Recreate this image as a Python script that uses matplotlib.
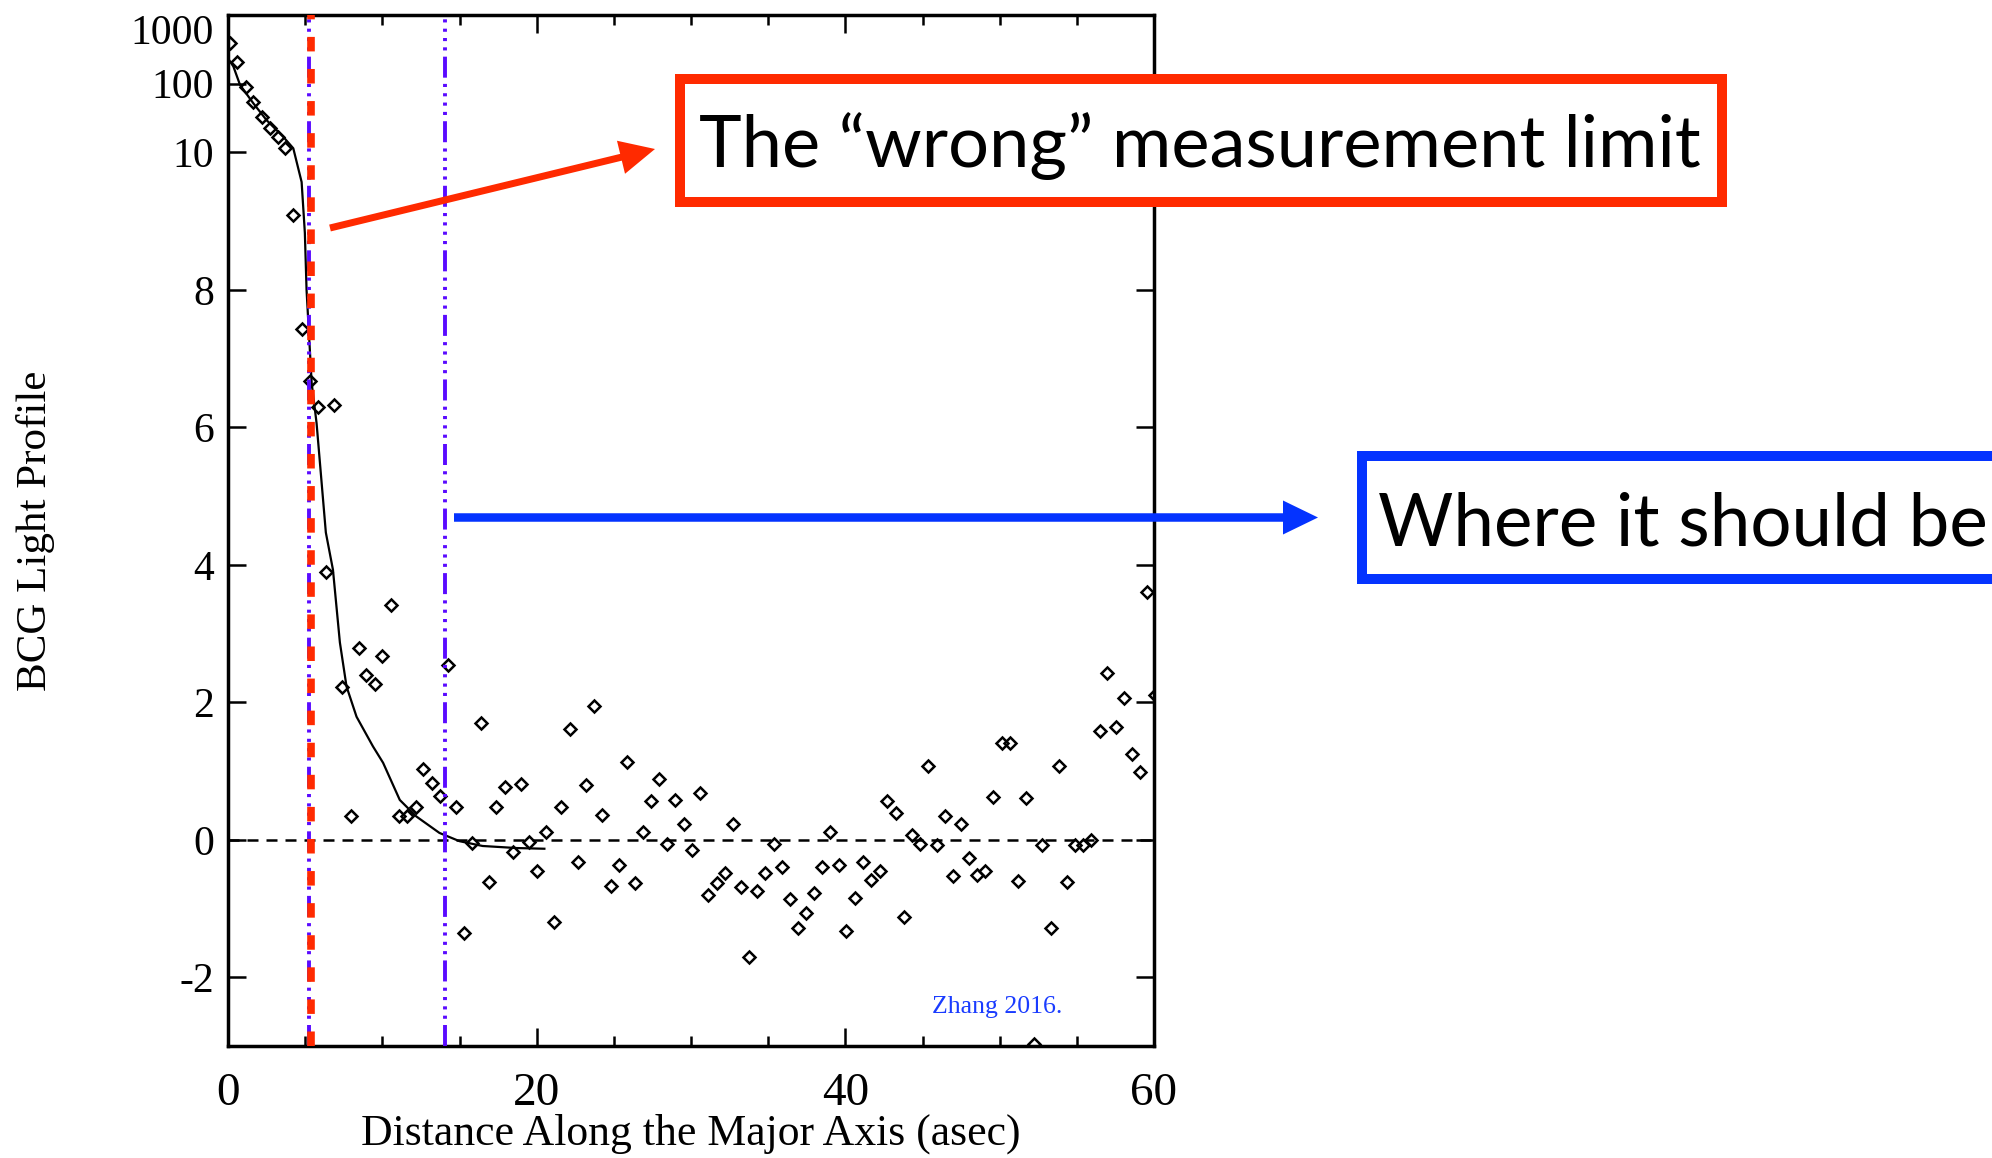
import matplotlib

matplotlib.use("Agg")

import matplotlib.pyplot as plt  # noqa: E402
import numpy as np
from matplotlib.patches import FancyArrow, Rectangle
from matplotlib.ticker import FixedLocator, MultipleLocator

W, H = 1992, 1158

# measured light profile (diamonds)
prof_x = [0.13, 0.60, 1.14, 1.64, 2.18, 2.72, 3.22, 3.69, 4.23, 4.77, 5.31, 5.85,
          6.32, 6.88, 7.40, 7.96, 8.48, 8.97, 9.51, 10.01, 10.55, 11.07, 11.61,
          12.17, 12.64, 13.22, 13.72, 14.26, 14.76, 15.30, 15.84, 16.38, 16.89,
          17.39, 17.93, 18.47, 19.01, 19.50, 20.04, 20.58, 21.10, 21.60, 22.14,
          22.67, 23.17, 23.71, 24.25, 24.79, 25.33, 25.83, 26.34, 26.88, 27.38,
          27.92, 28.46, 28.98, 29.53, 30.05, 30.59, 31.12, 31.66, 32.19, 32.70,
          33.23, 33.77, 34.27, 34.81, 35.36, 35.90, 36.41, 36.94, 37.45, 37.98,
          38.49, 39.02, 39.56, 40.06, 40.60, 41.16, 41.69, 42.22, 42.73, 43.27,
          43.80, 44.31, 44.87, 45.37, 45.91, 46.44, 46.97, 47.48, 48.02, 48.52,
          49.06, 49.59, 50.12, 50.66, 51.19, 51.70, 52.23, 52.76, 53.30, 53.83,
          54.34, 54.87, 55.41, 55.94, 56.47, 56.98, 57.52, 58.03, 58.56, 59.07,
          59.55, 60.05]
prof_y = [398, 204, 91, 55, 32.4, 22.8, 17, 11.5, 9.09, 7.43, 6.67, 6.30,
          3.90, 6.33, 2.22, 0.34, 2.79, 2.40, 2.26, 2.67, 3.42, 0.34, 0.35,
          0.47, 1.03, 0.83, 0.63, 2.55, 0.47, -1.36, -0.05, 1.70, -0.61,
          0.47, 0.77, -0.18, 0.81, -0.03, -0.45, 0.12, -1.20, 0.47, 1.61,
          -0.32, 0.80, 1.95, 0.36, -0.67, -0.36, 1.13, -0.63, 0.12, 0.57,
          0.88, -0.06, 0.58, 0.23, -0.15, 0.68, -0.81, -0.63, -0.48, 0.23,
          -0.69, -1.71, -0.74, -0.48, -0.06, -0.40, -0.86, -1.29, -1.07, -0.77,
          -0.39, 0.12, -0.36, -1.32, -0.85, -0.33, -0.58, -0.46, 0.56, 0.39,
          -1.12, 0.07, -0.06, 1.07, -0.07, 0.34, -0.52, 0.23, -0.27, -0.51,
          -0.45, 0.62, 1.41, 1.41, -0.60, 0.61, -2.97, -0.07, -1.29, 1.08,
          -0.62, -0.07, -0.07, -0.01, 1.59, 2.43, 1.64, 2.07, 1.25, 0.98,
          3.60, 2.11]

# fitted model (solid line)
model_x = [0.0, 0.35, 0.78, 1.64, 2.50, 3.57, 4.23, 4.77, 4.98, 5.09, 5.42, 5.74,
           6.34, 6.80, 7.25, 7.68, 8.33, 9.39, 10.05, 11.13, 12.20, 13.70, 15.00,
           16.50, 18.70, 20.50]
model_y = [234, 178, 96, 52, 29.5, 17, 11.5, 9.57, 8.83, 8.0, 6.65, 6.06,
           4.47, 3.93, 2.87, 2.23, 1.79, 1.36, 1.12, 0.58, 0.34, 0.10, -0.02,
           -0.09, -0.12, -0.13]

wrong_limit = 5.36
fit_limits = [5.28, 14.05]

y_ticks = [-2, 0, 2, 4, 6, 8, 10, 100, 1000]
y_ticklabels = ["-2", "0", "2", "4", "6", "8", "10", "100", "1000"]
x_ticks = [0, 20, 40, 60]

RED = "#FF2A00"
BLUE = "#0433FF"
VIOLET = "#5A0AFF"
SERIF = ["Liberation Serif", "DejaVu Serif"]
SANS = ["Lato", "DejaVu Sans"]


def _fwd(v):
    v = np.asarray(v, dtype=float)
    return np.where(v <= 10, v, 10 + np.log10(np.maximum(v, 10) / 10))


def _inv(t):
    t = np.asarray(t, dtype=float)
    return np.where(t <= 10, t, 10 * 10 ** (np.clip(t, 10, 20) - 10))


def _inch(px, py):
    return px / 100.0, (H - py) / 100.0


def _fit_text(fig, txt, target_px):
    fig.canvas.draw()
    w = txt.get_window_extent().width
    txt.set_fontsize(txt.get_fontsize() * target_px / w)


fig = plt.figure(figsize=(W / 100, H / 100), dpi=100)
ax = fig.add_axes([228 / W, 1 - 1046 / H, (1154 - 228) / W, (1046 - 15) / H])

ax.set_yscale("function", functions=(_fwd, _inv))
ax.set_xlim(0, 60)
ax.set_ylim(-3, 1000)

ax.axhline(0, color="black", lw=1.8, dashes=(4.4, 3.2), zorder=1)
ax.plot(model_x, model_y, color="black", lw=1.6, zorder=2)
ax.plot(prof_x, prof_y, ls="none", marker="D", ms=6.0, mfc="none",
        mec="black", mew=1.8, zorder=2)

for xv in fit_limits:
    ax.axvline(xv, color=VIOLET, lw=2.8,
               dashes=(5.4, 1.6, 0.8, 1.6, 0.8, 1.6, 0.8, 1.6, 0.8, 1.6), zorder=3)
ax.axvline(wrong_limit, color=RED, lw=5.5, dashes=(1.9, 2.3), zorder=4)

ax.text(45.6, -2.43, "Zhang 2016.", color="#1A3CFF", fontsize=18.5,
        family=SERIF, ha="left", va="center")

# axes styling
ax.xaxis.set_major_locator(FixedLocator(x_ticks))
ax.xaxis.set_minor_locator(MultipleLocator(5))
ax.set_xticklabels([str(v) for v in x_ticks])
ax.set_yticks(y_ticks)
ax.set_yticklabels(y_ticklabels)
ax.tick_params(which="both", direction="in", top=True, right=True, width=1.8)
ax.tick_params(which="major", length=13)
ax.tick_params(which="minor", length=7)
ax.tick_params(axis="x", pad=19, labelsize=34)
ax.tick_params(axis="y", pad=10, labelsize=30)
for lab in ax.get_xticklabels() + ax.get_yticklabels():
    lab.set_family(SERIF)
ax.get_yticklabels()[-1].set_verticalalignment("top")
for sp in ax.spines.values():
    sp.set_linewidth(2.5)

ax.set_xlabel("Distance Along the Major Axis (asec)", fontsize=31.5, family=SERIF)
ax.xaxis.set_label_coords(0.5, -(1134 - 1046) / 1031)
ax.xaxis.label.set_verticalalignment("center")
ax.set_ylabel("BCG Light Profile", fontsize=31, family=SERIF)
ax.yaxis.set_label_coords((36 - 228) / 926, 0.5)
ax.yaxis.label.set_verticalalignment("center")

# slide annotations
x0, y0 = _inch(680, 202)
fig.add_artist(Rectangle((x0, y0), 10.42, 1.23, transform=fig.dpi_scale_trans,
                         fc="white", ec=RED, lw=7.2))
x0, y0 = _inch(1362, 579)
fig.add_artist(Rectangle((x0, y0), 8.0, 1.23, transform=fig.dpi_scale_trans,
                         fc="white", ec=BLUE, lw=7.2))

t_red = fig.text(1200 / W, 1 - 167 / H, "The \u201cwrong\u201d measurement limit",
                 fontsize=52, family=SANS, ha="center", va="baseline")
t_blue = fig.text(1378 / W, 1 - 546 / H, "Where it should be",
                  fontsize=52, family=SANS, ha="left", va="baseline")
_fit_text(fig, t_red, 1003)
_fit_text(fig, t_blue, 610)

xa, ya = _inch(330, 228)
xb, yb = _inch(655, 149)
fig.add_artist(FancyArrow(xa, ya, xb - xa, yb - ya, width=0.07, head_width=0.34,
                          head_length=0.35, length_includes_head=True,
                          transform=fig.dpi_scale_trans, color=RED, lw=0))
xa, ya = _inch(454, 517.5)
xb, yb = _inch(1318, 517.5)
fig.add_artist(FancyArrow(xa, ya, xb - xa, yb - ya, width=0.085, head_width=0.34,
                          head_length=0.35, length_includes_head=True,
                          transform=fig.dpi_scale_trans, color=BLUE, lw=0))

fig.savefig("out.png", dpi=100)
